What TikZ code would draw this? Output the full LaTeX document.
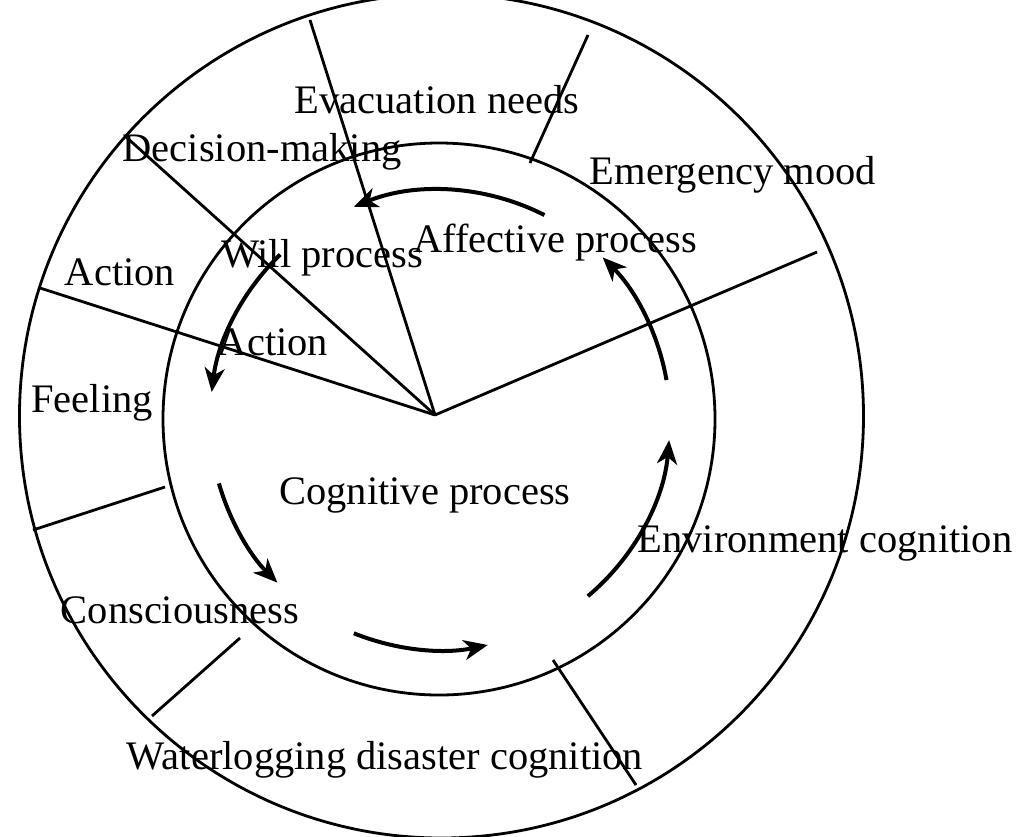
\documentclass[tikz,border=0pt]{standalone}
\usepackage{fontspec}
\setmainfont{Liberation Serif}
\usetikzlibrary{arrows.meta,calc}
\begin{document}
\begin{tikzpicture}[x=1pt,y=-1pt,
  lbl/.style={font=\fontsize{40.5}{44}\selectfont,inner sep=0pt},
  ln/.style={line width=2.8pt},
  arr/.style={line width=4pt,-{Stealth[length=24pt,width=20pt,inset=7pt]}}]
\useasboundingbox (0,0) rectangle (1024,836);
\coordinate (O) at (441.5,416);
\coordinate (C) at (435,415);
\coordinate (A) at (440,420);
\draw[ln] (O) circle (422);
\draw[ln] (439,419) circle (276);
\coordinate (p1) at (310,20); \coordinate (p2) at (817,252);
\coordinate (p3) at (40,288); \coordinate (p4) at (125,136);
\foreach \p in {p1,p2,p3,p4} \draw[ln] (C) -- (\p);
\coordinate (s1a) at (530,163); \coordinate (s1b) at (588,35);
\coordinate (s2a) at (165,487); \coordinate (s2b) at (33,530);
\coordinate (s3a) at (240,638); \coordinate (s3b) at (152,716);
\coordinate (s4a) at (553,660); \coordinate (s4b) at (636,785);
\foreach \a/\b in {s1a/s1b,s2a/s2b,s3a/s3b,s4a/s4b} \draw[ln] (\a) -- (\b);
\foreach \s/\e in {63/112,10/45,-50/-5,-112/-78,196/225,134/173}
  \draw[arr] ($(A)+({230*cos(\s)},{-230*sin(\s)})$) arc[start angle=-\s,end angle=-\e,radius=230];
\node[lbl] (t1) at (437,100) {Evacuation needs};
\node[lbl] (t2) at (262,152) {Decision-making};
\node[lbl] (t3) at (733,175) {Emergency mood};
\node[lbl] (t4) at (555,243) {Affective process};
\node[lbl] (t5) at (322,258) {Will process};
\node[lbl] (t6) at (120,272) {Action};
\node[lbl] (t7) at (273,342) {Action};
\node[lbl] (t8) at (92,403) {Feeling};
\node[lbl] (t9) at (425,495) {Cognitive process};
\node[lbl] (t10) at (825,543) {Environment cognition};
\node[lbl] (t11) at (180,610) {Consciousness};
\node[lbl] (t12) at (385,760) {Waterlogging disaster cognition};
\end{tikzpicture}
\end{document}
